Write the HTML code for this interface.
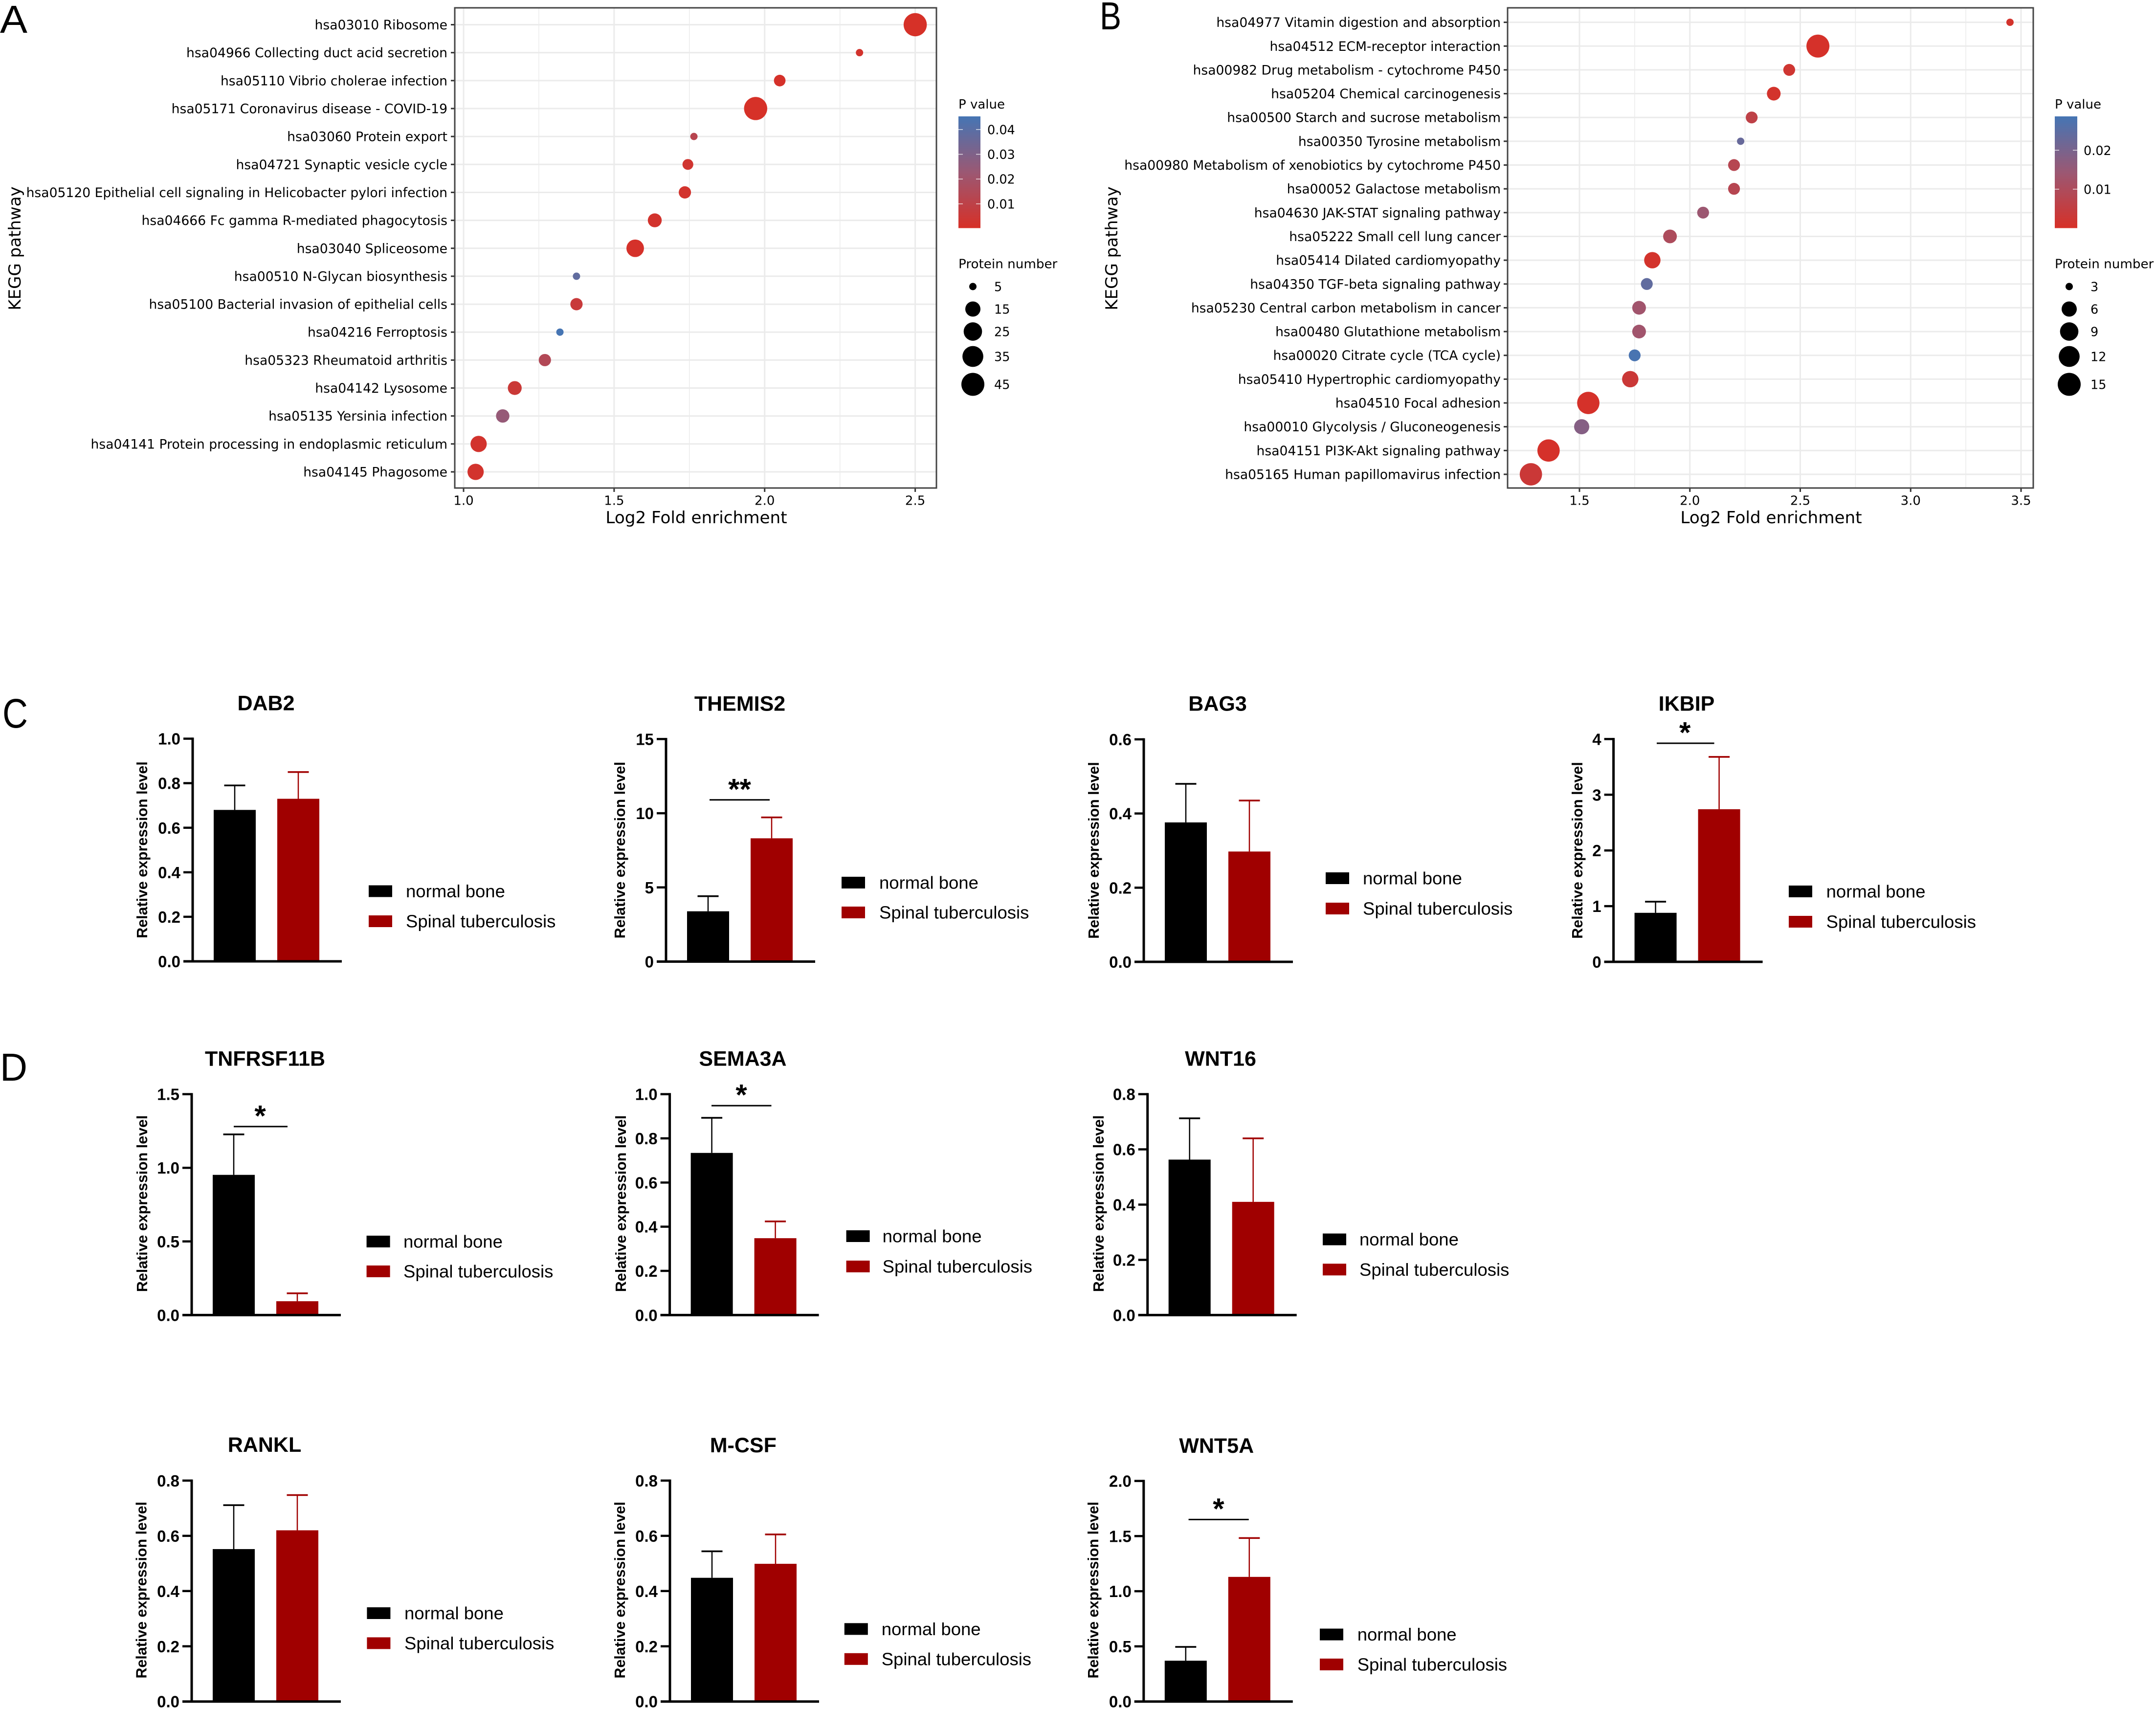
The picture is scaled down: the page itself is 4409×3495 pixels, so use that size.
<!DOCTYPE html>
<html lang="en">
<head>
<meta charset="utf-8">
<title>KEGG enrichment and relative expression figure</title>
<style>
html,body{margin:0;padding:0;background:#fff;}
svg{display:block;}
.dj{font-family:"DejaVu Sans","Liberation Sans",sans-serif;fill:#000;}
.lb{font-family:"Liberation Sans",Arial,sans-serif;fill:#000;}
.bd{font-weight:700;}
</style>
</head>
<body>
<svg id="figure" xmlns="http://www.w3.org/2000/svg" width="4409" height="3495" viewBox="0 0 4409 3495">
  <defs>
    <linearGradient id="pv" x1="0" y1="0" x2="0" y2="1">
      <stop offset="0" stop-color="#4575b4"/>
      <stop offset="0.5" stop-color="#9b5873"/>
      <stop offset="1" stop-color="#d73027"/>
    </linearGradient>
  </defs>
  <rect x="0" y="0" width="4409" height="3495" fill="#fff"/>
  <text class="lb" x="0" y="67" font-size="80" textLength="56" lengthAdjust="spacingAndGlyphs">A</text>
  <text class="lb" x="2249" y="60" font-size="80" textLength="44" lengthAdjust="spacingAndGlyphs">B</text>
  <text class="lb" x="5" y="1488" font-size="84" textLength="52" lengthAdjust="spacingAndGlyphs">C</text>
  <text class="lb" x="0" y="2210" font-size="80" textLength="56" lengthAdjust="spacingAndGlyphs">D</text>
</svg>
<script>
// ---------- Panel A data ----------
const pathwaysA = ["hsa03010 Ribosome","hsa04966 Collecting duct acid secretion","hsa05110 Vibrio cholerae infection","hsa05171 Coronavirus disease - COVID-19","hsa03060 Protein export","hsa04721 Synaptic vesicle cycle","hsa05120 Epithelial cell signaling in Helicobacter pylori infection","hsa04666 Fc gamma R-mediated phagocytosis","hsa03040 Spliceosome","hsa00510 N-Glycan biosynthesis","hsa05100 Bacterial invasion of epithelial cells","hsa04216 Ferroptosis","hsa05323 Rheumatoid arthritis","hsa04142 Lysosome","hsa05135 Yersinia infection","hsa04141 Protein processing in endoplasmic reticulum","hsa04145 Phagosome"];
const foldA = [2.50,2.315,2.05,1.97,1.765,1.745,1.735,1.635,1.57,1.375,1.375,1.32,1.27,1.17,1.13,1.05,1.04];
const pValueA = [0.0005,0.002,0.001,0.0005,0.012,0.003,0.002,0.002,0.001,0.038,0.006,0.045,0.014,0.005,0.024,0.002,0.002];
const proteinsA = [46,5,8,46,5,7,9,12,22,5,9,5,9,12,11,18,18];
const xTicksA = [1.0,1.5,2.0,2.5];
const xMinorA = [1.25,1.75,2.25];
const pTicksA = [0.04,0.03,0.02,0.01];
const sizeTicksA = [5,15,25,35,45];

// ---------- Panel B data ----------
const pathwaysB = ["hsa04977 Vitamin digestion and absorption","hsa04512 ECM-receptor interaction","hsa00982 Drug metabolism - cytochrome P450","hsa05204 Chemical carcinogenesis","hsa00500 Starch and sucrose metabolism","hsa00350 Tyrosine metabolism","hsa00980 Metabolism of xenobiotics by cytochrome P450","hsa00052 Galactose metabolism","hsa04630 JAK-STAT signaling pathway","hsa05222 Small cell lung cancer","hsa05414 Dilated cardiomyopathy","hsa04350 TGF-beta signaling pathway","hsa05230 Central carbon metabolism in cancer","hsa00480 Glutathione metabolism","hsa00020 Citrate cycle (TCA cycle)","hsa05410 Hypertrophic cardiomyopathy","hsa04510 Focal adhesion","hsa00010 Glycolysis / Gluconeogenesis","hsa04151 PI3K-Akt signaling pathway","hsa05165 Human papillomavirus infection"];
const foldB = [3.45,2.58,2.45,2.38,2.28,2.23,2.20,2.20,2.06,1.91,1.83,1.805,1.77,1.77,1.75,1.73,1.54,1.51,1.36,1.28];
const pValueB = [0.001,0.0005,0.002,0.001,0.006,0.023,0.008,0.008,0.014,0.010,0.001,0.024,0.013,0.013,0.028,0.003,0.0005,0.018,0.0005,0.003];
const proteinsB = [3,15,4,5,4,3,4,4,4,5,7,4,5,5,4,7,14,6,14,14];
const xTicksB = [1.5,2.0,2.5,3.0,3.5];
const xMinorB = [1.75,2.25,2.75,3.25];
const pTicksB = [0.02,0.01];
const sizeTicksB = [3,6,9,12,15];

// ---------- Bar panels data ----------
const genes = ["DAB2","THEMIS2","BAG3","IKBIP","TNFRSF11B","SEMA3A","WNT16","RANKL","M-CSF","WNT5A"];
const normalMean = [0.68,3.39,0.376,0.88,0.952,0.734,0.563,0.552,0.448,0.37];
const normalUpper = [0.79,4.41,0.48,1.08,1.227,0.893,0.7125,0.711,0.544,0.495];
const tbMean = [0.73,8.31,0.2975,2.74,0.094,0.348,0.41,0.62,0.4987,1.13];
const tbUpper = [0.85,9.72,0.435,3.68,0.148,0.424,0.64,0.7475,0.605,1.482];
const yTickLabels = [
  ["0.0","0.2","0.4","0.6","0.8","1.0"],
  ["0","5","10","15"],
  ["0.0","0.2","0.4","0.6"],
  ["0","1","2","3","4"],
  ["0.0","0.5","1.0","1.5"],
  ["0.0","0.2","0.4","0.6","0.8","1.0"],
  ["0.0","0.2","0.4","0.6","0.8"],
  ["0.0","0.2","0.4","0.6","0.8"],
  ["0.0","0.2","0.4","0.6","0.8"],
  ["0.0","0.5","1.0","1.5","2.0"]
];
const sigMarks = ["","**","","*","*","*","","","","*"];
const sigLevels = [0,10.9,0,3.925,1.28,0.948,0,0,0,1.65];
const seriesNames = ["normal bone","Spinal tuberculosis"];

// ---------- Layout (separate from data) ----------
const barLayout = [
  {ax:394,top:1510.6,bot:1966,tx:545,ty:1437,yt:290,sw:754,t:830,l1:1822.5,l2:1884},
  {ax:1362,top:1511.4,bot:1966.5,tx:1514,ty:1438,yt:1267,sw:1721,t:1798,l1:1805,l2:1866,sig:[1451,1574,1512.5]},
  {ax:2339,top:1512,bot:1967,tx:2491,ty:1438,yt:2236,sw:2711,t:2787,l1:1796,l2:1858},
  {ax:3299.6,top:1511.4,bot:1967,tx:3450,ty:1438,yt:3225,sw:3658,t:3734.6,l1:1823,l2:1885,sig:[3388,3505.6,3445.7]},
  {ax:392,top:2237.6,bot:2689.4,tx:543,ty:2164,yt:290,sw:749.6,t:825,l1:2539,l2:2600,sig:[478,588,532]},
  {ax:1369.6,top:2237.6,bot:2689.4,tx:1520,ty:2164,yt:1269,sw:1730.6,t:1804.6,l1:2528,l2:2590,sig:[1455,1577.5,1516]},
  {ax:2346.7,top:2237.6,bot:2689.4,tx:2497,ty:2164,yt:2246,sw:2705,t:2780,l1:2534.6,l2:2596.3},
  {ax:392,top:3027.9,bot:3479.7,tx:542,ty:2953.7,yt:288.6,sw:750.4,t:827,l1:3299,l2:3360.4},
  {ax:1370,top:3027.9,bot:3479.7,tx:1520.8,ty:2954.5,yt:1267,sw:1726.8,t:1802.7,l1:3331.4,l2:3392.8},
  {ax:2338.8,top:3028.6,bot:3479.7,tx:2488.7,ty:2955.3,yt:2235,sw:2699,t:2775.7,l1:3342.6,l2:3403.9,sig:[2430.6,2553.7,2491.9]}
];
const frameA = {x0:930,x1:1915,y0:16,y1:998,xv:[1.0,2.5],xp:[948,1871.6],row0:50.5,rowN:965,labelEnd:915,yTitleX:30,cbX:1960,cbW:45,cbLabelX:2019,titleX:1960,circleX:1989.5,circleLabelX:2033,pDomain:[0.0002,0.0453],sizeDomain:[5,45],axisTitleX:1424,id:'a'};
const frameB = {x0:3083,x1:4158,y0:16,y1:998,xv:[1.5,3.5],xp:[3230,4133],row0:45.6,rowN:970,labelEnd:3069,yTitleX:2273,cbX:4202,cbW:46,cbLabelX:4261,titleX:4202,circleX:4231.5,circleLabelX:4275,pDomain:[0,0.0287],sizeDomain:[3,15],axisTitleX:3622,id:'b'};
const legendCircleY = [586,632,678,729,786];

// ---------- Helpers ----------
const NS = 'http://www.w3.org/2000/svg';
const root = document.getElementById('figure');
function mk(tag, attrs, parent, text) {
  const el = document.createElementNS(NS, tag);
  for (const k in attrs) el.setAttribute(k, attrs[k]);
  if (text !== undefined) el.textContent = text;
  parent.appendChild(el);
  return el;
}
function slug(s) {
  return String(s).toLowerCase().replace(/[^a-z0-9]+/g, '-').replace(/^-|-$/g, '');
}
function colorFor(p, dom) {
  const t = Math.max(0, Math.min(1, (p - dom[0]) / (dom[1] - dom[0])));
  const lo = [215, 48, 39], mid = [155, 88, 115], hi = [69, 117, 180];
  const a = t < 0.5 ? lo : mid, b = t < 0.5 ? mid : hi, u = t < 0.5 ? t * 2 : (t - 0.5) * 2;
  const c = a.map((v, i) => Math.round(v + (b[i] - v) * u));
  return 'rgb(' + c.join(',') + ')';
}
function sizeFor(n, dom) {
  return 15 + 32 * Math.sqrt(Math.max(0, (n - dom[0]) / (dom[1] - dom[0])));
}

// ---------- Dot plot ----------
function drawDotPlot(f, pathways, fold, pvals, counts, xTicks, xMinor, pTicks, sizeTicks) {
  const g = mk('g', {}, root);
  
  
  const xS = v => f.xp[0] + (v - f.xv[0]) * (f.xp[1] - f.xp[0]) / (f.xv[1] - f.xv[0]);
  const yS = i => f.row0 + i * (f.rowN - f.row0) / (pathways.length - 1);

  xMinor.forEach(v => {
    const l = mk('line', {x1:xS(v),x2:xS(v),y1:f.y0,y2:f.y1,stroke:'#ebebeb','stroke-width':1.5}, g);
    
    
  });
  xTicks.forEach(v => {
    const l = mk('line', {x1:xS(v),x2:xS(v),y1:f.y0,y2:f.y1,stroke:'#ebebeb','stroke-width':3}, g);
    
    
    const t = mk('line', {x1:xS(v),x2:xS(v),y1:f.y1,y2:f.y1+8,stroke:'#333','stroke-width':3}, g);
    
    
    const lab = mk('text', {x:xS(v),y:1023+9.5,'font-size':26,'text-anchor':'middle',class:'dj'}, g, v.toFixed(1));
    
    
  });
  pathways.forEach((name, i) => {
    const l = mk('line', {x1:f.x0,x2:f.x1,y1:yS(i),y2:yS(i),stroke:'#ebebeb','stroke-width':3}, g);
    
    
    const t = mk('line', {x1:f.x0-8,x2:f.x0,y1:yS(i),y2:yS(i),stroke:'#333','stroke-width':3}, g);
    
    
    const lab = mk('text', {x:f.labelEnd,y:yS(i)+9.5,'font-size':26.6,'text-anchor':'end',class:'dj'}, g, name);
    
    
  });
  pathways.forEach((name, i) => {
    const c = mk('circle', {cx:xS(fold[i]),cy:yS(i),r:sizeFor(counts[i], f.sizeDomain)/2,fill:colorFor(pvals[i], f.pDomain)}, g);
    
    
  });
  const box = mk('rect', {x:f.x0,y:f.y0,width:f.x1-f.x0,height:f.y1-f.y0,fill:'none',stroke:'#444','stroke-width':3}, g);
  
  

  const xt = mk('text', {x:f.axisTitleX,y:1070,'font-size':34.2,'text-anchor':'middle',class:'dj'}, g, 'Log2 Fold enrichment');
  
  
  const yt = mk('text', {x:0,y:0,'font-size':34,'text-anchor':'middle',class:'dj',transform:'translate(' + (f.yTitleX+12) + ',508) rotate(-90)'}, g, 'KEGG pathway');
  
  

  // colour bar legend
  const cbTop = 238, cbBot = 466.5;
  const pt = mk('text', {x:f.titleX,y:222,'font-size':26,class:'dj'}, g, 'P value');
  
  
  const bar = mk('rect', {x:f.cbX,y:cbTop,width:f.cbW,height:cbBot-cbTop,fill:'url(#pv)'}, g);
  
  
  const yP = p => cbBot - (p - f.pDomain[0]) / (f.pDomain[1] - f.pDomain[0]) * (cbBot - cbTop);
  pTicks.forEach(p => {
    const a = mk('line', {x1:f.cbX,x2:f.cbX+9,y1:yP(p),y2:yP(p),stroke:'#fff','stroke-width':1.5,opacity:.8}, g);
    
    
    const b = mk('line', {x1:f.cbX+f.cbW-9,x2:f.cbX+f.cbW,y1:yP(p),y2:yP(p),stroke:'#fff','stroke-width':1.5,opacity:.8}, g);
    
    
    const lab = mk('text', {x:f.cbLabelX,y:yP(p)+9.5,'font-size':25.5,class:'dj'}, g, p.toFixed(2));
    
    
  });

  // size legend
  const st = mk('text', {x:f.titleX,y:548.5,'font-size':26.2,class:'dj'}, g, 'Protein number');
  
  
  sizeTicks.forEach((n, i) => {
    const c = mk('circle', {cx:f.circleX,cy:legendCircleY[i],r:sizeFor(n, f.sizeDomain)/2,fill:'#000'}, g);
    
    
    const lab = mk('text', {x:f.circleLabelX,y:legendCircleY[i]+9.5,'font-size':25.5,class:'dj'}, g, String(n));
    
    
  });
}

// ---------- Bar panels ----------
function drawBarPanel(i) {
  const L = barLayout[i];
  const labels = yTickLabels[i];
  const yMax = parseFloat(labels[labels.length - 1]);
  const yS = v => L.bot - v / yMax * (L.bot - L.top);
  const g = mk('g', {}, root);
  
  

  const title = mk('text', {x:L.tx-1,y:L.ty+15.5,'font-size':43,'text-anchor':'middle',class:'lb bd'}, g, genes[i]);
  
  
  const yt = mk('text', {x:0,y:0,'font-size':30.4,'text-anchor':'middle',class:'lb bd',transform:'translate(' + (L.yt+11) + ',' + (L.bot-228) + ') rotate(-90)'}, g, 'Relative expression level');
  
  

  const series = [
    {name:seriesNames[0], mean:normalMean[i], upper:normalUpper[i], color:'#000', off:43},
    {name:seriesNames[1], mean:tbMean[i], upper:tbUpper[i], color:'#a00000', off:173}
  ];
  series.forEach((s, k) => {
    const bx = L.ax + s.off, bw = 86, cx = bx + bw / 2;
    const r = mk('rect', {x:bx,y:yS(s.mean),width:bw,height:L.bot-yS(s.mean),fill:s.color}, g);
    
    
    const e = mk('line', {x1:cx,x2:cx,y1:yS(s.mean),y2:yS(s.upper),stroke:s.color,'stroke-width':2.5}, g);
    
    
    const cap = mk('line', {x1:cx-21.5,x2:cx+21.5,y1:yS(s.upper),y2:yS(s.upper),stroke:s.color,'stroke-width':3.5}, g);
    
    
    const ly = k === 0 ? L.l1 : L.l2;
    const sw = mk('rect', {x:L.sw,y:ly-12,width:48,height:24,fill:s.color}, g);
    
    
    const tx = mk('text', {x:L.t,y:ly+12.5,'font-size':36.5,class:'lb'}, g, s.name);
    
    
  });

  const ya = mk('line', {x1:L.ax,x2:L.ax,y1:L.top-2.25,y2:L.bot,stroke:'#000','stroke-width':5}, g);
  
  
  const xa = mk('line', {x1:L.ax-19,x2:L.ax+305,y1:L.bot,y2:L.bot,stroke:'#000','stroke-width':5}, g);
  
  
  labels.forEach(lab => {
    const v = parseFloat(lab);
    const t = mk('line', {x1:L.ax-19,x2:L.ax,y1:yS(v),y2:yS(v),stroke:'#000','stroke-width':4.5}, g);
    
    
    const tl = mk('text', {x:L.ax-25,y:yS(v)+12,'font-size':33,'text-anchor':'end',class:'lb bd'}, g, lab);
    
    
  });

  if (L.sig) {
    const sy = yS(sigLevels[i]);
    const sl = mk('line', {x1:L.sig[0],x2:L.sig[1],y1:sy,y2:sy,stroke:'#000','stroke-width':3}, g);
    
    
    const st = mk('text', {x:L.sig[2],y:sy-36+34.5,'font-size':60,'text-anchor':'middle',class:'lb bd'}, g, sigMarks[i]);
    
    
  }
}

drawDotPlot(frameA, pathwaysA, foldA, pValueA, proteinsA, xTicksA, xMinorA, pTicksA, sizeTicksA);
drawDotPlot(frameB, pathwaysB, foldB, pValueB, proteinsB, xTicksB, xMinorB, pTicksB, sizeTicksB);
genes.forEach((g, i) => drawBarPanel(i));
</script>
</body>
</html>
